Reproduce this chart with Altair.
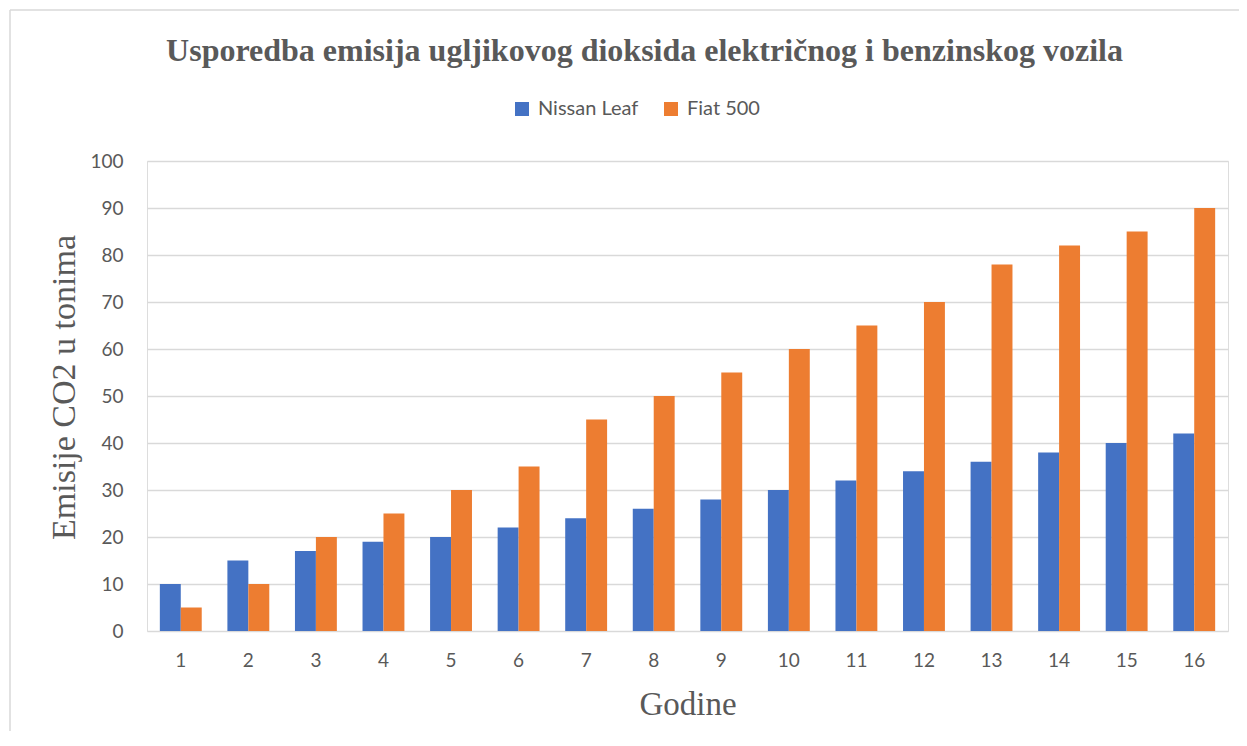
import altair as alt
import pandas as pd

years = list(range(1, 17))
nissan_leaf = [10, 15, 17, 19, 20, 22, 24, 26, 28, 30, 32, 34, 36, 38, 40, 42]
fiat_500 = [5, 10, 20, 25, 30, 35, 45, 50, 55, 60, 65, 70, 78, 82, 85, 90]
series = ["Nissan Leaf", "Fiat 500"]
colors = ["#4472C4", "#ED7D31"]

rows = []
for i, y in enumerate(years):
    rows.append({"Godina": y, "Vozilo": series[0], "Emisije": nissan_leaf[i]})
    rows.append({"Godina": y, "Vozilo": series[1], "Emisije": fiat_500[i]})
df = pd.DataFrame(rows)

W, H = 1081, 470
label_font = "Lato"
serif = "Liberation Serif"

bars = alt.Chart(df).mark_bar().encode(
    x=alt.X("Godina:O",
            scale=alt.Scale(paddingInner=0.38, paddingOuter=0.19),
            axis=alt.Axis(title="Godine", labelAngle=0, domain=False, ticks=False,
                          labelPadding=20, labelFontSize=19, labelFont=label_font,
                          labelColor="#595959", titleFont=serif, titleFontSize=33,
                          titleFontWeight="normal", titleColor="#595959",
                          titleY=83, titleBaseline="alphabetic")),
    xOffset=alt.XOffset("Vozilo:N", sort=series, scale=alt.Scale(paddingInner=0, paddingOuter=0)),
    y=alt.Y("Emisije:Q",
            scale=alt.Scale(domain=[0, 100], nice=False),
            axis=alt.Axis(title="Emisije CO2 u tonima", values=list(range(0, 101, 10)),
                          domain=False, ticks=False, labelPadding=24, labelFontSize=19,
                          labelFont=label_font, labelColor="#595959",
                          gridColor="#d9d9d9", gridWidth=1.3,
                          titleFont=serif, titleFontSize=34, titleFontWeight="normal",
                          titleColor="#595959", titleX=-73, titleY=226,
                          titleBaseline="alphabetic", titleAngle=270, titleAlign="center")),
    color=alt.Color("Vozilo:N", sort=series,
                    scale=alt.Scale(domain=series, range=colors),
                    legend=alt.Legend(title=None, orient="none", direction="horizontal",
                                      legendX=365, legendY=-62, symbolType="square",
                                      symbolSize=196, symbolStrokeWidth=0,
                                      labelFont=label_font, labelFontSize=20,
                                      labelColor="#595959", columnPadding=22,
                                      symbolOffset=0, labelOffset=6)),
)

border = alt.Chart(pd.DataFrame({"k": [0]})).mark_rule(color="#d9d9d9", strokeWidth=1.5).encode(
    x=alt.value(-137), y=alt.value(-151), y2=alt.value(700)
) + alt.Chart(pd.DataFrame({"k": [0]})).mark_rule(color="#d9d9d9", strokeWidth=1.5).encode(
    x=alt.value(-137), x2=alt.value(1300), y=alt.value(-151)
)

chart = alt.layer(border, bars).properties(
    width=W, height=H,
    title=alt.Title("Usporedba emisija ugljikovog dioksida električnog i benzinskog vozila",
                    font=serif, fontSize=32, fontWeight="bold", color="#595959",
                    anchor="middle", dx=-43, offset=0, dy=59),
    autosize=alt.AutoSizeParams(type="none"),
    padding={"left": 139, "top": 153, "right": 11, "bottom": 100},
).configure_view(stroke=None).configure(background="white")

chart.save("out.html", embed_options={"renderer": "svg", "actions": False})
